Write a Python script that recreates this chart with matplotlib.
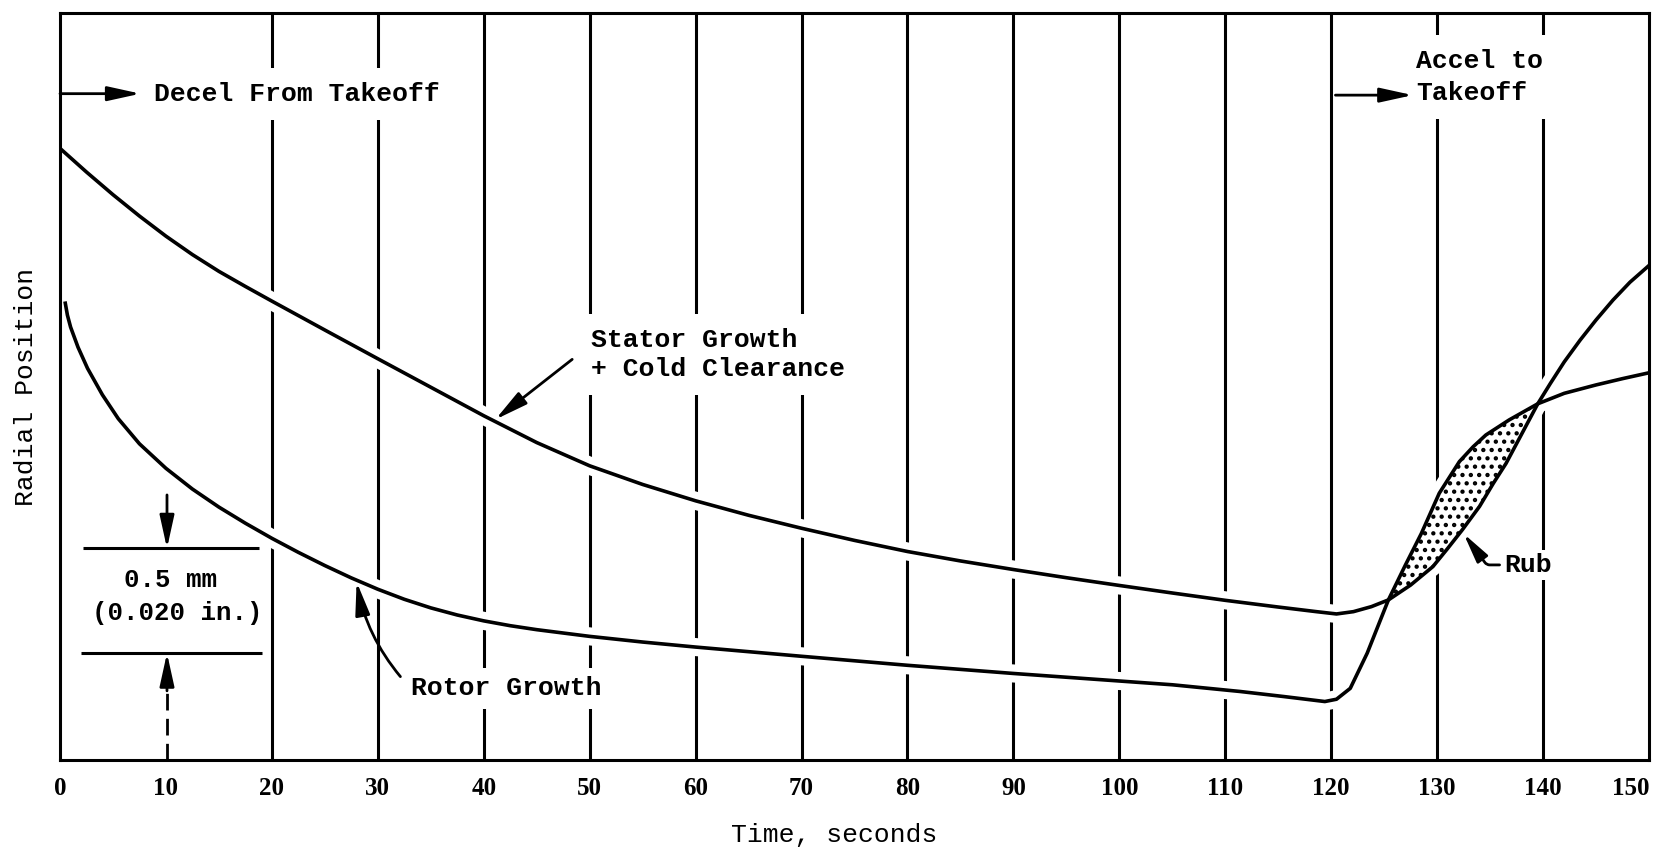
import numpy as np
import matplotlib
matplotlib.use('Agg')
import matplotlib.pyplot as plt

# radial position in mm above the bottom of the frame, time in seconds
stator_t = [0, 2.5, 5, 7.5, 10, 12.5, 15, 17.5, 20, 25, 30, 35, 40, 45, 50, 55, 60, 65, 70, 75,
            80, 85, 90, 95, 100, 105, 110, 115, 118.6, 120.5, 122.1, 123.8, 125.4, 127.5, 129.6, 131,
            132.4, 134, 135.3, 136.5, 137.5, 139.5, 140.7, 142, 143.5, 145, 146.6, 148.2, 150]
stator_y = [2.919, 2.806, 2.698, 2.596, 2.50, 2.412, 2.332, 2.26, 2.19, 2.052, 1.915, 1.779, 1.643,
            1.515, 1.404, 1.315, 1.237, 1.168, 1.106, 1.048, 0.995, 0.95, 0.909, 0.87, 0.833, 0.797,
            0.762, 0.73, 0.708, 0.697, 0.708, 0.732, 0.764, 0.835, 0.923, 1.01, 1.10, 1.21, 1.32, 1.415,
            1.51, 1.70, 1.798, 1.90, 2.004, 2.10, 2.195, 2.28, 2.36]

rotor_t = [0.5, 0.7, 1.0, 1.7, 2.6, 4, 5.5, 7.5, 10, 12.5, 15, 17.5, 20, 22.5, 25, 27.5, 30, 32.5,
           35, 37.5, 40, 42.5, 45, 50, 55, 60, 70, 80, 90, 100, 105, 111.4, 115.5, 119.4, 120.5, 121.8,
           123.4, 125.4, 127, 128.5, 130.2, 132.1, 133.4, 134.6, 136.8, 139.5, 142, 145, 147.5, 150]
rotor_y = [2.180, 2.123, 2.066, 1.970, 1.869, 1.743, 1.629, 1.509, 1.392, 1.293, 1.207, 1.130, 1.058,
           0.991, 0.928, 0.869, 0.815, 0.767, 0.726, 0.692, 0.664, 0.641, 0.622, 0.590, 0.563, 0.539,
           0.495, 0.452, 0.413, 0.377, 0.359, 0.327, 0.303, 0.279, 0.290, 0.342, 0.51, 0.764, 0.93,
           1.08, 1.273, 1.424, 1.495, 1.551, 1.623, 1.70, 1.75, 1.79, 1.82, 1.848]

rub_start, rub_end = 125.4, 139.5
grid_t = [20, 30, 40, 50, 60, 70, 80, 90, 100, 110, 120, 130, 140]
tick_t = list(range(0, 151, 10))
scale_lo, scale_hi = 0.51, 1.01
ymax = 3.565

plt.rcParams['font.family'] = ['Liberation Mono', 'DejaVu Sans Mono']
plt.rcParams['font.weight'] = 'bold'
plt.rcParams['font.size'] = 19
plt.rcParams['hatch.linewidth'] = 1.9

fig = plt.figure(figsize=(16.6, 8.47), dpi=100)
ax = fig.add_axes([60 / 1660, 1 - 760 / 847, 1589 / 1660, 747 / 847])
ax.set_xlim(0, 150)
ax.set_ylim(0, ymax)

ax.vlines(grid_t, 0, ymax, color='black', lw=2.2, zorder=1)

# white underlay so the grid lines break where the curves cross them
ax.plot(stator_t, stator_y, color='white', lw=13, zorder=2)
ax.plot(rotor_t, rotor_y, color='white', lw=13, zorder=2)

rt = np.array(rotor_t)
ry = np.array(rotor_y)
st = np.array(stator_t)
sy = np.array(stator_y)
m1 = (rt >= rub_start) & (rt <= rub_end)
m2 = (st >= rub_start) & (st <= rub_end)
poly_t = np.concatenate([rt[m1], st[m2][::-1]])
poly_y = np.concatenate([ry[m1], sy[m2][::-1]])
ax.fill(poly_t, poly_y, facecolor='white', edgecolor='white', lw=10, zorder=2.5)
ax.fill(poly_t, poly_y, facecolor='none', edgecolor='black', hatch='..', lw=0, zorder=3)

ax.plot(stator_t, stator_y, color='black', lw=2.6, zorder=4, solid_joinstyle='round')
ax.plot(rotor_t, rotor_y, color='black', lw=2.6, zorder=4, solid_joinstyle='round')

head = '-|>,head_length=1.0,head_width=0.22'
box = dict(facecolor='white', edgecolor='none', pad=10)

ax.text(8.9, 3.18, 'Decel From Takeoff', ha='left', va='center', bbox=box, zorder=5)
ax.annotate('', xy=(7.6, 3.18), xytext=(0, 3.18),
            arrowprops=dict(arrowstyle=head, color='black', lw=2, shrinkA=0, shrinkB=0, mutation_scale=20),
            zorder=6)

ax.text(128.0, 3.259, 'Accel to\nTakeoff', ha='left', va='center', linespacing=1.4, bbox=box, zorder=5)
ax.annotate('', xy=(127.7, 3.173), xytext=(120.4, 3.173),
            arrowprops=dict(arrowstyle=head, color='black', lw=2, shrinkA=0, shrinkB=0, mutation_scale=20),
            zorder=6)

ax.text(50.1, 1.935, 'Stator Growth\n+ Cold Clearance', ha='left', va='center', linespacing=1.25,
        bbox=box, zorder=5)
ax.annotate('', xy=(41.1, 1.625), xytext=(48.35, 1.912),
            arrowprops=dict(arrowstyle=head, color='black', lw=2, shrinkA=0, shrinkB=0, mutation_scale=20),
            zorder=6)

ax.annotate('Rotor Growth', xy=(28.0, 0.85), xytext=(33.1, 0.343), ha='left', va='center',
            bbox=dict(facecolor='white', edgecolor='none', pad=6), zorder=6,
            arrowprops=dict(arrowstyle=head, color='black', lw=2, shrinkA=2, shrinkB=0, mutation_scale=20,
                            relpos=(0, 0.5), connectionstyle='arc3,rad=-0.15'))

ax.annotate('Rub', xy=(132.5, 1.08), xytext=(136.3, 0.931), ha='left', va='center',
            bbox=dict(facecolor='white', edgecolor='none', pad=2), zorder=6,
            arrowprops=dict(arrowstyle=head, color='black', lw=2, shrinkA=1, shrinkB=0, mutation_scale=18,
                            relpos=(0, 0.5), connectionstyle='angle,angleA=0,angleB=126.5,rad=3'))

# 0.5 mm scale bar
ax.hlines(scale_hi, 2.2, 18.8, color='black', lw=2.2, zorder=4)
ax.hlines(scale_lo, 2.0, 19.1, color='black', lw=2.2, zorder=4)
ax.annotate('', xy=(10.1, scale_hi), xytext=(10.1, 1.265),
            arrowprops=dict(arrowstyle=head, color='black', lw=2, shrinkA=0, shrinkB=0, mutation_scale=20))
ax.annotate('', xy=(10.1, scale_lo), xytext=(10.1, 0.33),
            arrowprops=dict(arrowstyle=head, color='black', lw=2, shrinkA=0, shrinkB=0, mutation_scale=20))
ax.plot([10.1, 10.1], [0, 0.33], color='black', lw=2, linestyle=(0, (6, 3)))
ax.text(10.4, 0.86, '0.5 mm', ha='center', va='center', fontsize=18.5)
ax.text(11.1, 0.70, '(0.020 in.)', ha='center', va='center', fontsize=18.5)

ax.set_xticks(tick_t)
ax.set_xticklabels([str(t) for t in tick_t])
ax.tick_params(axis='x', length=0, pad=12)
for lab in ax.get_xticklabels():
    lab.set_fontfamily('Liberation Serif')
    lab.set_fontweight('bold')
    lab.set_fontsize(18)
ax.get_xticklabels()[-1].set_ha('right')
ax.set_yticks([])
for s in ax.spines.values():
    s.set_linewidth(2.2)

ax.set_xlabel('Time, seconds', labelpad=17, x=0.487)
ax.set_ylabel('Radial Position', labelpad=16)

fig.savefig('out.png', dpi=100, facecolor='white')
